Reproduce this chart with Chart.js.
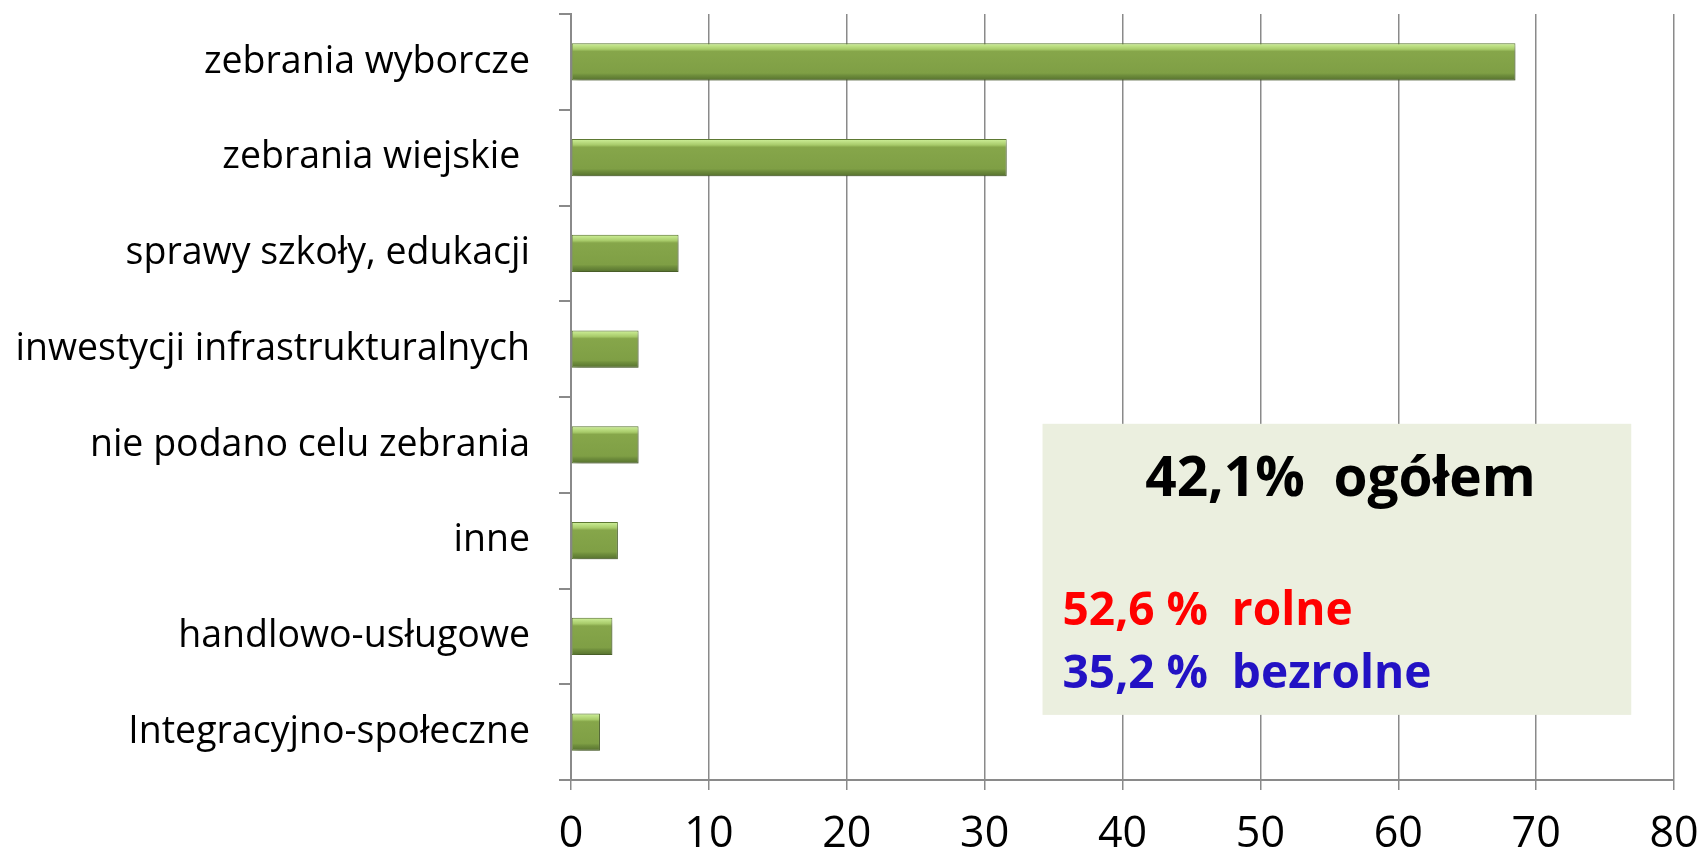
<!DOCTYPE html>
<html lang="pl">
<head>
<meta charset="UTF-8">
<title>Cele zebrań</title>
<script src="https://cdn.jsdelivr.net/npm/chart.js"></script>
<style>
  html, body { margin: 0; padding: 0; background: #fff; }
  #wrap { width: 1704px; height: 853px; }
</style>
</head>
<body>
<div id="wrap"><canvas id="meetingsChart" width="1704" height="853"></canvas></div>
<script>
// dane
const categories = [
  'zebrania wyborcze',
  'zebrania wiejskie ',
  'sprawy szkoły, edukacji',
  'inwestycji infrastrukturalnych',
  'nie podano celu zebrania',
  'inne',
  'handlowo-usługowe',
  'Integracyjno-społeczne'
];
const values = [68.5, 31.6, 7.8, 4.9, 4.9, 3.4, 3.0, 2.1];
const xTicks = [0, 10, 20, 30, 40, 50, 60, 70, 80];
const summaryLines = ['42,1%  ogółem', '52,6 %  rolne', '35,2 %  bezrolne'];
const summaryColors = ['#000000', '#ff0000', '#2312c4'];

const BAR_PCT = 0.39;
const GRID = '#8a8a8a';

// gradient imitujacy "wypukly" slupek
function barFill(context) {
  const chart = context.chart;
  const y = chart.scales.y;
  if (!y || context.dataIndex == null) return '#7f9f45';
  const center = y.getPixelForValue(context.dataIndex);
  const step = y.getPixelForValue(1) - y.getPixelForValue(0);
  const h = Math.abs(step) * BAR_PCT / 2;
  if (!isFinite(center) || !isFinite(h) || h <= 0) return '#7f9f45';
  const g = chart.ctx.createLinearGradient(0, center - h, 0, center + h);
  g.addColorStop(0, '#9abd5c');
  g.addColorStop(0.04, '#c6e88f');
  g.addColorStop(0.16, '#a8cb6a');
  g.addColorStop(0.22, '#86a64a');
  g.addColorStop(0.80, '#7f9f45');
  g.addColorStop(0.86, '#6f8e3c');
  g.addColorStop(1, '#55702e');
  return g;
}

// cien pod slupkami
const shadowPlugin = {
  id: 'barShadow',
  beforeDatasetsDraw(chart) {
    const ctx = chart.ctx;
    ctx.save();
    ctx.shadowColor = 'rgba(0,0,0,0.28)';
    ctx.shadowBlur = 6;
    ctx.shadowOffsetX = 3;
    ctx.shadowOffsetY = 4;
  },
  afterDatasetsDraw(chart) {
    chart.ctx.restore();
  }
};

// ramka z podsumowaniem
const summaryPlugin = {
  id: 'summaryBox',
  afterDraw(chart) {
    const ctx = chart.ctx;
    const xs = chart.scales.x, ys = chart.scales.y;
    const left = xs.getPixelForValue(34.2);
    const right = xs.getPixelForValue(76.9);
    const step = ys.getPixelForValue(1) - ys.getPixelForValue(0);
    const top = ys.getPixelForValue(0) + step * 3.78;
    const bottom = ys.getPixelForValue(0) + step * 6.82;
    ctx.save();
    ctx.fillStyle = '#ebefdf';
    ctx.fillRect(left, top, right - left, bottom - top);
    ctx.textBaseline = 'alphabetic';
    ctx.font = 'bold 55px "Open Sans"';
    ctx.fillStyle = summaryColors[0];
    ctx.textAlign = 'center';
    ctx.fillText(summaryLines[0], left + 298, top + 72);
    ctx.font = 'bold 46px "Open Sans"';
    ctx.textAlign = 'left';
    ctx.fillStyle = summaryColors[1];
    ctx.fillText(summaryLines[1], left + 20, top + 201);
    ctx.fillStyle = summaryColors[2];
    ctx.fillText(summaryLines[2], left + 20, top + 264);
    ctx.restore();
  }
};

const ctx = document.getElementById('meetingsChart').getContext('2d');
const meetingsChart = new Chart(ctx, {
  type: 'bar',
  data: {
    labels: categories,
    datasets: [{
      data: values,
      backgroundColor: barFill,
      borderColor: '#5f7b34',
      borderWidth: 1,
      borderSkipped: false,
      categoryPercentage: 1,
      barPercentage: BAR_PCT
    }]
  },
  options: {
    indexAxis: 'y',
    responsive: false,
    devicePixelRatio: 1,
    animation: false,
    layout: { padding: { top: 14, right: 30, left: 0, bottom: 0 } },
    plugins: {
      legend: { display: false },
      tooltip: { enabled: false }
    },
    scales: {
      x: {
        min: 0,
        max: 80,
        afterBuildTicks(scale) {
          scale.ticks = xTicks.map(v => ({ value: v }));
        },
        afterFit(scale) {
          scale.height = 73;
          scale.paddingLeft = 0;
          scale.paddingRight = 0;
        },
        grid: {
          color: GRID,
          lineWidth: 1.5,
          drawTicks: true,
          tickLength: 10,
          tickColor: GRID
        },
        border: { display: true, color: GRID, width: 2 },
        ticks: {
          color: '#000',
          padding: 19,
          maxRotation: 0,
          font: { family: '"Open Sans"', size: 43 }
        }
      },
      y: {
        afterFit(scale) {
          scale.width = 571;
          scale.paddingTop = 0;
          scale.paddingBottom = 0;
        },
        grid: {
          offset: true,
          drawOnChartArea: false,
          drawTicks: true,
          tickLength: 12,
          color: GRID,
          lineWidth: 2
        },
        border: { display: true, color: GRID, width: 2 },
        ticks: {
          color: '#000',
          padding: 29,
          font: { family: '"Open Sans"', size: 37.5 }
        }
      }
    }
  },
  plugins: [shadowPlugin, summaryPlugin]
});
</script>
</body>
</html>
